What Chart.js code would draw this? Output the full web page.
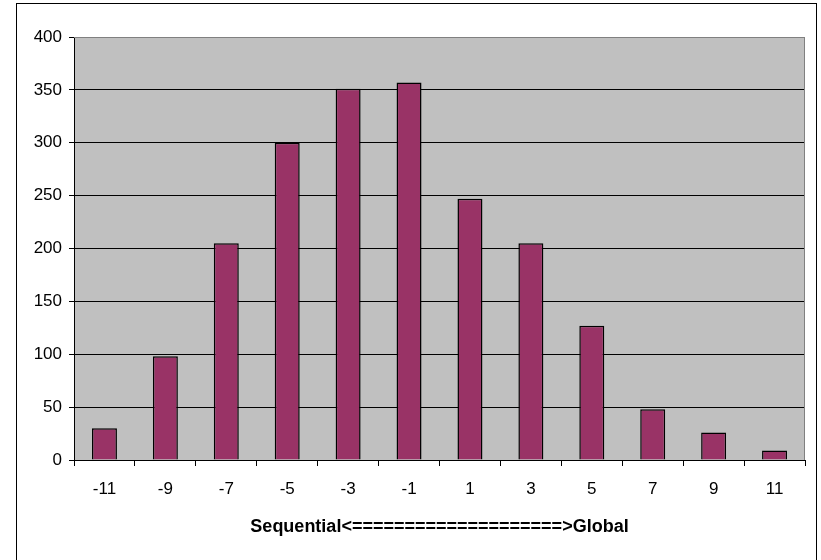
<!DOCTYPE html>
<html>
<head>
<meta charset="utf-8">
<script src="https://cdn.jsdelivr.net/npm/chart.js@4/dist/chart.umd.min.js"></script>
<style>
  html, body { margin: 0; padding: 0; background: #ffffff; }
  #wrap { width: 821px; height: 560px; }
</style>
</head>
<body>
<div id="wrap"><canvas id="c" width="821" height="560"></canvas></div>
<script>
// Categories along the Sequential <-> Global axis
const categories = ['-11', '-9', '-7', '-5', '-3', '-1', '1', '3', '5', '7', '9', '11'];
// Counts for each category
const counts = [30, 98, 205, 300, 351, 357, 247, 205, 127, 48, 26, 9];
// Value axis ticks
const yTicks = [0, 50, 100, 150, 200, 250, 300, 350, 400];
const xTitle = 'Sequential<====================>Global';

// Gray plot area, its border and the outer frame
const framePlugin = {
  id: 'frame',
  beforeDraw(chart) {
    const { ctx, chartArea: a } = chart;
    ctx.save();
    ctx.fillStyle = '#ffffff';
    ctx.fillRect(0, 0, chart.width, chart.height);
    ctx.fillStyle = '#c0c0c0';
    ctx.fillRect(a.left, a.top, a.right - a.left, a.bottom - a.top);
    ctx.strokeStyle = '#000000';
    ctx.lineWidth = 1;
    ctx.strokeRect(16.5, 3.5, 800, 620);
    ctx.restore();
  },
  beforeDatasetsDraw(chart) {
    const { ctx, chartArea: a } = chart;
    ctx.save();
    ctx.strokeStyle = '#808080';
    ctx.lineWidth = 1;
    ctx.beginPath();
    ctx.moveTo(a.left, a.top + 0.5);
    ctx.lineTo(a.right - 0.5, a.top + 0.5);
    ctx.lineTo(a.right - 0.5, a.bottom);
    ctx.stroke();
    ctx.restore();
  }
};

const font = "'Liberation Sans', Arial, sans-serif";

new Chart(document.getElementById('c'), {
  type: 'bar',
  data: {
    labels: categories,
    datasets: [{
      data: counts,
      backgroundColor: '#993366',
      borderColor: '#000000',
      borderWidth: 1.5,
      categoryPercentage: 1,
      barPercentage: 0.41
    }]
  },
  options: {
    responsive: false,
    animation: false,
    devicePixelRatio: 1,
    layout: { padding: { top: 37, right: 16, bottom: 0, left: 0 } },
    plugins: {
      legend: { display: false },
      tooltip: { enabled: false }
    },
    scales: {
      x: {
        grid: {
          offset: true,
          drawOnChartArea: false,
          drawTicks: true,
          tickLength: 6,
          color: '#000000'
        },
        border: { display: true, color: '#000000', width: 1 },
        ticks: {
          color: '#000000',
          font: { family: font, size: 17 },
          padding: 13,
          maxRotation: 0
        },
        title: {
          display: true,
          text: xTitle,
          color: '#000000',
          font: { family: font, size: 18, weight: 'bold' },
          padding: { top: 0, bottom: 22 }
        },
        afterFit(scale) { scale.height = 100; }
      },
      y: {
        min: 0,
        max: 400,
        afterBuildTicks(scale) {
          scale.ticks = yTicks.map(v => ({ value: v }));
        },
        grid: {
          drawTicks: true,
          tickLength: 5,
          color: ctx => (ctx.tick && ctx.tick.value === 400) ? '#808080' : '#000000',
          tickColor: '#000000'
        },
        border: { display: true, color: '#000000', width: 1 },
        ticks: {
          color: '#000000',
          font: { family: font, size: 17 },
          padding: 7
        },
        afterFit(scale) { scale.width = 74; }
      }
    }
  },
  plugins: [framePlugin]
});
</script>
</body>
</html>
